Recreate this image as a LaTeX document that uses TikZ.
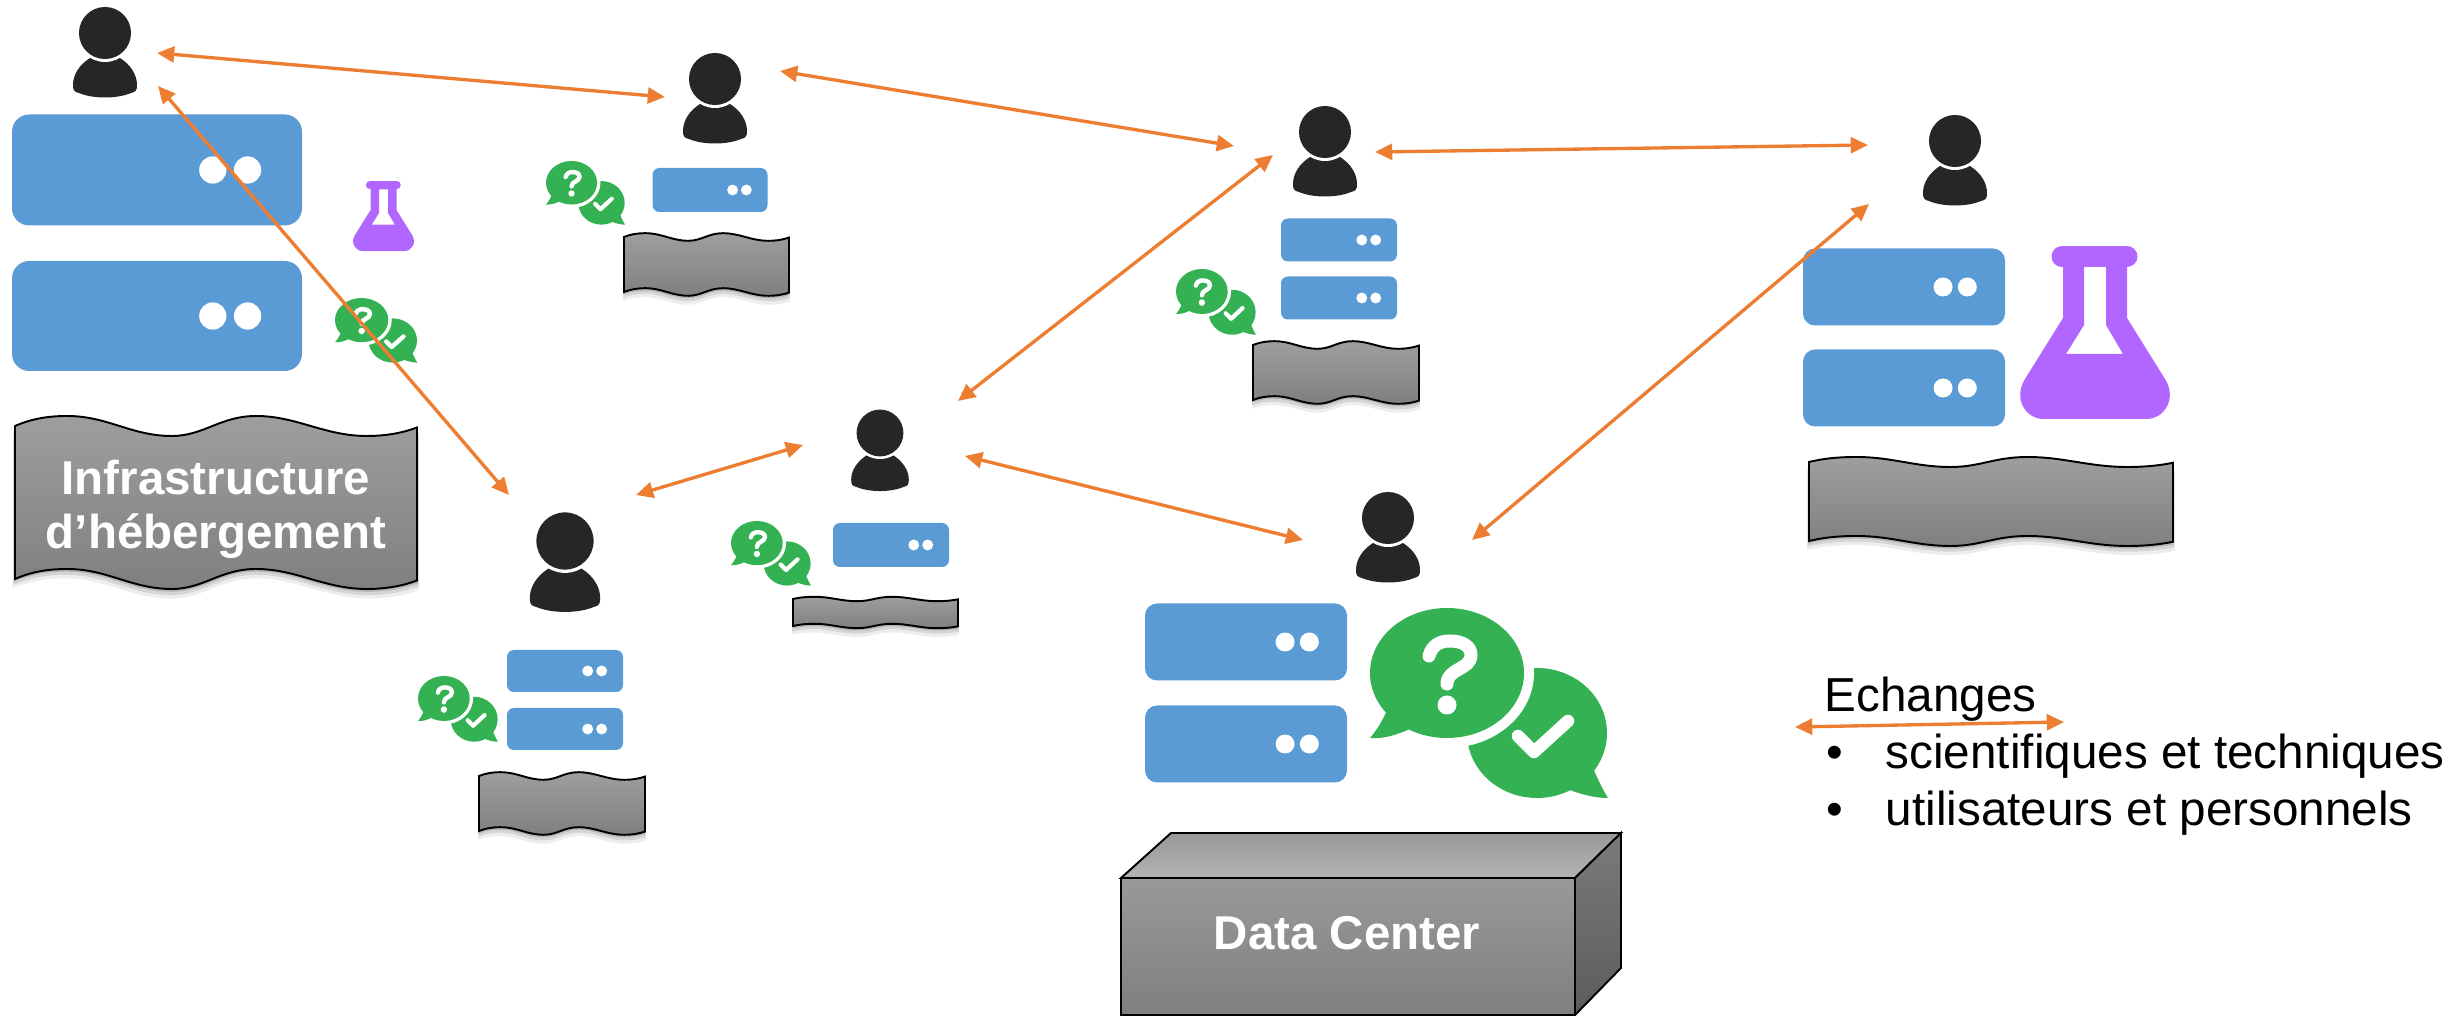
\documentclass[tikz,border=0pt]{standalone}
\usepackage{fontspec}
\setmainfont{Liberation Sans}
\usepackage{tikz}
\usetikzlibrary{arrows.meta, shadows}
\definecolor{srvblue}{HTML}{5B9BD5}
\definecolor{chatgreen}{HTML}{33B153}
\definecolor{labpurple}{HTML}{B166FF}
\definecolor{linkorange}{HTML}{ED7D31}
\definecolor{userblack}{HTML}{262626}

\newcommand{\usericon}[4]{
\begin{scope}[shift={(#2,#3)}, scale=#4]
\fill[userblack] (-32,52) .. controls (-32,42) and (-26,32) .. (-15,25) -- (15,25) .. controls (26,32) and (32,42) .. (32,52) .. controls (32,57) and (31,59) .. (26,60) .. controls (12,66) and (-12,66) .. (-26,60) .. controls (-31,59) and (-32,57) .. (-32,52) -- cycle;
\fill[white] (0,0) circle [radius=29];
\end{scope}
\node[userhead, minimum size=#4*0.52cm] (#1) at (#2,#3) {};
}
\newcommand{\servernode}[5]{
\node[srvbox, minimum width=#4*0.01cm, minimum height=#5*0.01cm, rounded corners=#4*0.0006cm] (#1) at (#2,#3) {};
\fill[white] (#1.east) ++(-.31*#4,0) circle [radius=.047*#4];
\fill[white] (#1.east) ++(-.19*#4,0) circle [radius=.047*#4];
}
\newcommand{\chatbubbles}[4]{
\begin{scope}[shift={(#1,#2)}, xscale=#3, yscale=#4]
\fill[chatgreen] (167,125) ellipse [x radius=70, y radius=65];
\fill[chatgreen] (223,160) .. controls (228,172) and (233,182) .. (238,190) .. controls (225,190) and (212,187) .. (195,180) -- cycle;
\draw[white, line width=#3*0.125cm, line cap=round, line join=round] (148,128) -- (164,144) -- (198,113);
\fill[white] (77,65) ellipse [x radius=87, y radius=75];
\fill[chatgreen] (77,65) ellipse [x radius=77, y radius=65];
\fill[chatgreen] (18,100) .. controls (13,112) and (7,122) .. (0,130) .. controls (14,131) and (27,127) .. (42,120) -- cycle;
\draw[white, line width=#3*0.13cm, line cap=round] (59,48) .. controls (62,37) and (70,33) .. (80,33) .. controls (92,33) and (101,38) .. (101,47) .. controls (101,62) and (77,60) .. (77,76);
\fill[white] (77,97) ellipse [x radius=9.5, y radius=9.5];
\end{scope}
}
\newcommand{\flaskicon}[4]{
\begin{scope}[shift={(#1,#2)}, xscale=#3, yscale=#4]
\draw[labpurple, line width=#4*0.21cm, line cap=round] (42,10.5) -- (107,10.5);
\fill[labpurple, even odd rule] (43,15) -- (43,72) -- (5,133) .. controls (-7,152) and (5,173) .. (24,173) -- (126,173) .. controls (145,173) and (157,152) .. (145,133) -- (107,72) -- (107,15) -- cycle
 (64,21) -- (64,79) -- (46,108) -- (103,108) -- (86,79) -- (86,21) -- cycle;
\end{scope}
}
\newcommand{\wavebanner}[6]{
\pgfmathsetmacro{\waveh}{#5/#6}
\begin{scope}[shift={(#2,#3)}, xscale=#4, yscale=#6]
\path[draw=black, line width=.55pt, top color=black!38, bottom color=black!50,
 drop shadow={shadow xshift=0pt, shadow yshift=-2.4pt, shadow scale=1.012, opacity=.07, fill=black},
 drop shadow={shadow xshift=0pt, shadow yshift=-1.5pt, shadow scale=1.008, opacity=.1, fill=black},
 drop shadow={shadow xshift=0pt, shadow yshift=-.7pt, shadow scale=1.004, opacity=.14, fill=black}] (0,0) .. controls (.04,-.7) and (.08,-1) .. (.13,-1) .. controls (.23,-1) and (.29,1) .. (.39,1) .. controls (.47,1) and (.51,-1) .. (.60,-1) .. controls (.70,-1) and (.77,1) .. (.875,1) .. controls (.93,1) and (.97,.6) .. (1,.15)
 -- (1,.15+\waveh) .. controls (.97,.6+\waveh) and (.93,1+\waveh) .. (.875,1+\waveh) .. controls (.77,1+\waveh) and (.70,-1+\waveh) .. (.60,-1+\waveh) .. controls (.51,-1+\waveh) and (.47,1+\waveh) .. (.39,1+\waveh) .. controls (.29,1+\waveh) and (.23,-1+\waveh) .. (.13,-1+\waveh) .. controls (.08,-1+\waveh) and (.04,-.7+\waveh) .. (0,\waveh) -- cycle;
\end{scope}
}

\begin{document}
\begin{tikzpicture}[x=0.01cm, y=-0.01cm,
userhead/.style={circle, fill=userblack, inner sep=0pt},
srvbox/.style={rectangle, fill=srvblue, inner sep=0pt},
banner/.style={text=white, font=\fontsize{13.5pt}{15.4pt}\selectfont\bfseries, align=center, inner sep=0pt},
legend/.style={anchor=base west, inner sep=0pt, font=\fontsize{13.55pt}{16pt}\selectfont},
exchange/.style={draw=linkorange, line width=0.95pt, {Triangle[length=4.9pt, width=4.5pt]}-{Triangle[length=4.9pt, width=4.5pt]}}]
\useasboundingbox (0,0) rectangle (2456,1016);

\wavebanner{ban1}{15}{426}{402}{153}{10}
\wavebanner{ban2}{624}{237}{165}{55}{3.8}
\wavebanner{ban3}{1253}{345}{166}{55}{3.8}
\wavebanner{ban4}{1809}{462}{364}{79}{5}
\wavebanner{ban5}{793}{599}{165}{27}{2.2}
\wavebanner{ban6}{479}{776}{166}{55}{3.8}

\usericon{u1}{105}{33}{1}
\usericon{u2}{715}{79}{1}
\usericon{u3}{1325}{132}{1}
\usericon{u4}{1955}{141}{1}
\usericon{u5}{880}{433}{.9}
\usericon{u6}{565}{541}{1.1}
\usericon{u7}{1388}{518}{1}

\servernode{s1a}{157}{170}{290}{111}
\servernode{s1b}{157}{316}{290}{110}
\servernode{s2a}{710}{190}{115}{44}
\servernode{s3a}{1339}{240}{116}{43}
\servernode{s3b}{1339}{298}{116}{43}
\servernode{s4a}{1904}{287}{202}{77}
\servernode{s4b}{1904}{388}{202}{77}
\servernode{s5a}{891}{545}{116}{44}
\servernode{s6a}{565}{671}{116}{42}
\servernode{s6b}{565}{729}{116}{42}
\servernode{s7a}{1246}{642}{202}{77}
\servernode{s7b}{1246}{744}{202}{77}

\chatbubbles{335}{298}{.346}{.34}
\chatbubbles{546}{161}{.332}{.335}
\chatbubbles{1176}{269}{.336}{.346}
\chatbubbles{731}{521}{.336}{.34}
\chatbubbles{418}{676}{.336}{.346}
\chatbubbles{1370}{608}{1}{1}

\flaskicon{353}{181}{.407}{.405}
\flaskicon{2020}{246}{1}{1}

\path[draw=black, line width=.55pt, top color=black!40, bottom color=black!30] (1121,878) -- (1171,833) -- (1621,833) -- (1575,878) -- cycle;
\path[draw=black, line width=.55pt, top color=black!52, bottom color=black!64] (1575,878) -- (1621,833) -- (1621,968) -- (1575,1015) -- cycle;
\node[draw=black, line width=.55pt, top color=black!40, bottom color=black!50, minimum width=454*0.01cm, minimum height=137*0.01cm, inner sep=0pt] (dc) at (1348,946.5) {};

\node[banner] (infra) at (216,509) {Infrastructure\\d’hébergement};
\node[banner] (dclabel) at (1347,933) {Data Center};

\node[legend] (ech) at (1824,712) {Echanges};
\node[legend] (b1) at (1826,769) {•};
\node[legend] (sci) at (1885,769) {scientifiques et techniques};
\node[legend] (b2) at (1826,826) {•};
\node[legend] (uti) at (1885,826) {utilisateurs et personnels};

\coordinate (u1e) at (157,53);
\coordinate (u1s) at (158,86);
\coordinate (u2w) at (665,97);
\coordinate (u2e) at (780,71);
\coordinate (u3w) at (1234,146);
\coordinate (u3s) at (1273,155);
\coordinate (u3e) at (1375,152);
\coordinate (u4w) at (1868,145);
\coordinate (u4s) at (1869,204);
\coordinate (u5n) at (958,401);
\coordinate (u5w) at (803,445);
\coordinate (u5e) at (965,456);
\coordinate (u6n) at (509,495);
\coordinate (u6e) at (636,495);
\coordinate (u7w) at (1303,540);
\coordinate (u7e) at (1472,540);
\coordinate (legw) at (1795,727);
\coordinate (lege) at (2064,722);

\draw[exchange] (u1e) -- (u2w);
\draw[exchange] (u1s) -- (u6n);
\draw[exchange] (u2e) -- (u3w);
\draw[exchange] (u3e) -- (u4w);
\draw[exchange] (u3s) -- (u5n);
\draw[exchange] (u4s) -- (u7e);
\draw[exchange] (u5e) -- (u7w);
\draw[exchange] (u5w) -- (u6e);
\draw[exchange] (legw) -- (lege);
\end{tikzpicture}
\end{document}
